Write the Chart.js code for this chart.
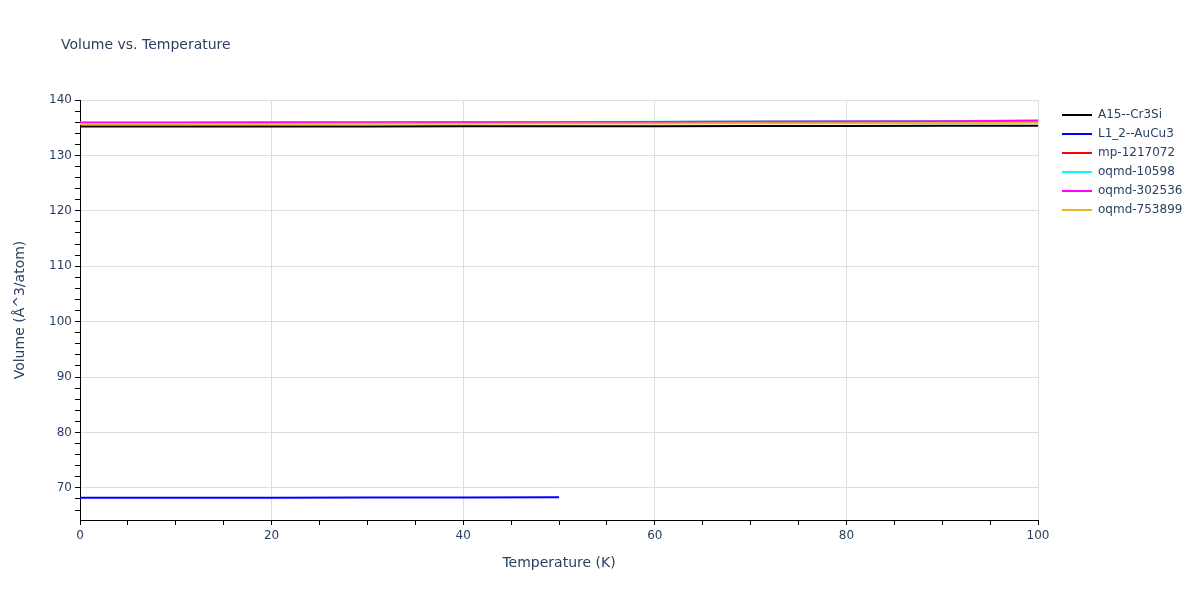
<!DOCTYPE html>
<html><head><meta charset="utf-8">
<script src="https://cdn.jsdelivr.net/npm/chart.js@4/dist/chart.umd.min.js"></script>
<style>html,body{margin:0;padding:0;background:#fff}#wrap{width:1200px;height:600px;position:relative}</style>
</head><body><div id="wrap"><canvas id="c" width="1200" height="600"></canvas></div>
<script>
const temps = [0,10,20,30,40,50,60,70,80,90,100];
const tempsShort = [0,10,20,30,40,50];
const seriesNames = ["A15--Cr3Si","L1_2--AuCu3","mp-1217072","oqmd-10598","oqmd-302536","oqmd-753899"];
const seriesColors = ["#000000","#0000ff","#ff0000","#00ffff","#ff00ff","#f0b41e"];
const a15 = [135.20,135.21,135.22,135.23,135.25,135.26,135.28,135.30,135.32,135.34,135.37];
const l12 = [68.20,68.21,68.22,68.24,68.26,68.29];
const mp1217072 = [135.90,135.91,135.92,135.94,135.97,136.00,136.04,136.08,136.13,136.18,136.24];
const oqmd10598 = [135.93,135.94,135.95,135.97,136.00,136.03,136.07,136.11,136.16,136.21,136.27];
const oqmd302536 = [135.90,135.91,135.92,135.94,135.97,136.00,136.04,136.08,136.13,136.18,136.26];
const oqmd753899 = [135.67,135.68,135.69,135.70,135.72,135.74,135.76,135.79,135.82,135.86,135.90];
const xTicksMajor = [0,20,40,60,80,100];
const yTicksMajor = [70,80,90,100,110,120,130,140];

const seriesValues = [a15,l12,mp1217072,oqmd10598,oqmd302536,oqmd753899];
const seriesX = [temps,tempsShort,temps,temps,temps,temps];
const FONT = '"DejaVu Sans", Verdana, sans-serif';
const TXT = '#2a3f5f';

const datasets = seriesNames.map((n,i)=>({
  label:n,
  data: seriesValues[i].map((v,j)=>({x:seriesX[i][j], y:v})),
  borderColor: seriesColors[i],
  backgroundColor: seriesColors[i],
  borderWidth: 2, pointRadius: 0, tension: 0, fill:false,
  order: seriesNames.length - i
}));

const titlePlugin = {
  id:'customText',
  afterDraw(chart){
    const ctx = chart.ctx;
    ctx.save();
    ctx.fillStyle = TXT;
    ctx.font = '14px ' + FONT;
    ctx.textBaseline = 'middle';
    ctx.textAlign = 'left';
    ctx.fillText('Volume vs. Temperature', 61, 45);
    ctx.font = '12px ' + FONT;
    chart.data.datasets.forEach((ds,i)=>{
      const y = 115 + i*19;
      ctx.strokeStyle = ds.borderColor;
      ctx.lineWidth = 2;
      ctx.beginPath(); ctx.moveTo(1062,y); ctx.lineTo(1092,y); ctx.stroke();
      ctx.fillStyle = TXT;
      ctx.fillText(ds.label, 1098, y);
    });
    ctx.restore();
  }
};

new Chart(document.getElementById('c'), {
  type:'line',
  data:{datasets},
  plugins:[titlePlugin],
  options:{
    responsive:false, animation:false, devicePixelRatio:1,
    layout:{padding:{left:0,right:162,top:100,bottom:24}},
    plugins:{legend:{display:false}, tooltip:{enabled:false}},
    scales:{
      x:{
        type:'linear', min:0, max:100,
        afterBuildTicks(s){ const t=[]; for(let v=0; v<=100; v+=5) t.push({value:v}); s.ticks=t; },
        afterFit(s){ s.height = 56; },
        border:{display:true,color:'#000',width:1},
        grid:{
          drawTicks:true, tickLength:5, tickColor:'#000',
          color:(c)=> (c.tick && xTicksMajor.includes(c.tick.value) && c.tick.value!==0) ? '#dddddd' : 'rgba(0,0,0,0)',
          lineWidth:1
        },
        ticks:{
          autoSkip:false, maxRotation:0, padding:4,
          color:TXT, font:{family:FONT,size:12},
          callback:(v)=> xTicksMajor.includes(v) ? String(v) : ''
        },
        title:{display:true,text:'Temperature (K)',color:TXT,font:{family:FONT,size:14},padding:{top:4,bottom:4}}
      },
      y:{
        type:'linear', min:64.2, max:140,
        afterBuildTicks(s){ const t=[]; for(let v=66; v<=140; v+=2) t.push({value:v}); s.ticks=t; },
        afterFit(s){ s.width = 80; },
        border:{display:true,color:'#000',width:1},
        grid:{
          drawTicks:true, tickLength:5, tickColor:'#000',
          color:(c)=> (c.tick && yTicksMajor.includes(c.tick.value)) ? '#dddddd' : 'rgba(0,0,0,0)',
          lineWidth:1
        },
        ticks:{
          autoSkip:false, padding:3,
          color:TXT, font:{family:FONT,size:12},
          callback:(v)=> yTicksMajor.includes(v) ? String(v) : ''
        },
        title:{display:true,text:'Volume (Å^3/atom)',color:TXT,font:{family:FONT,size:14},padding:{top:12,bottom:4}}
      }
    }
  }
});
</script></body></html>
